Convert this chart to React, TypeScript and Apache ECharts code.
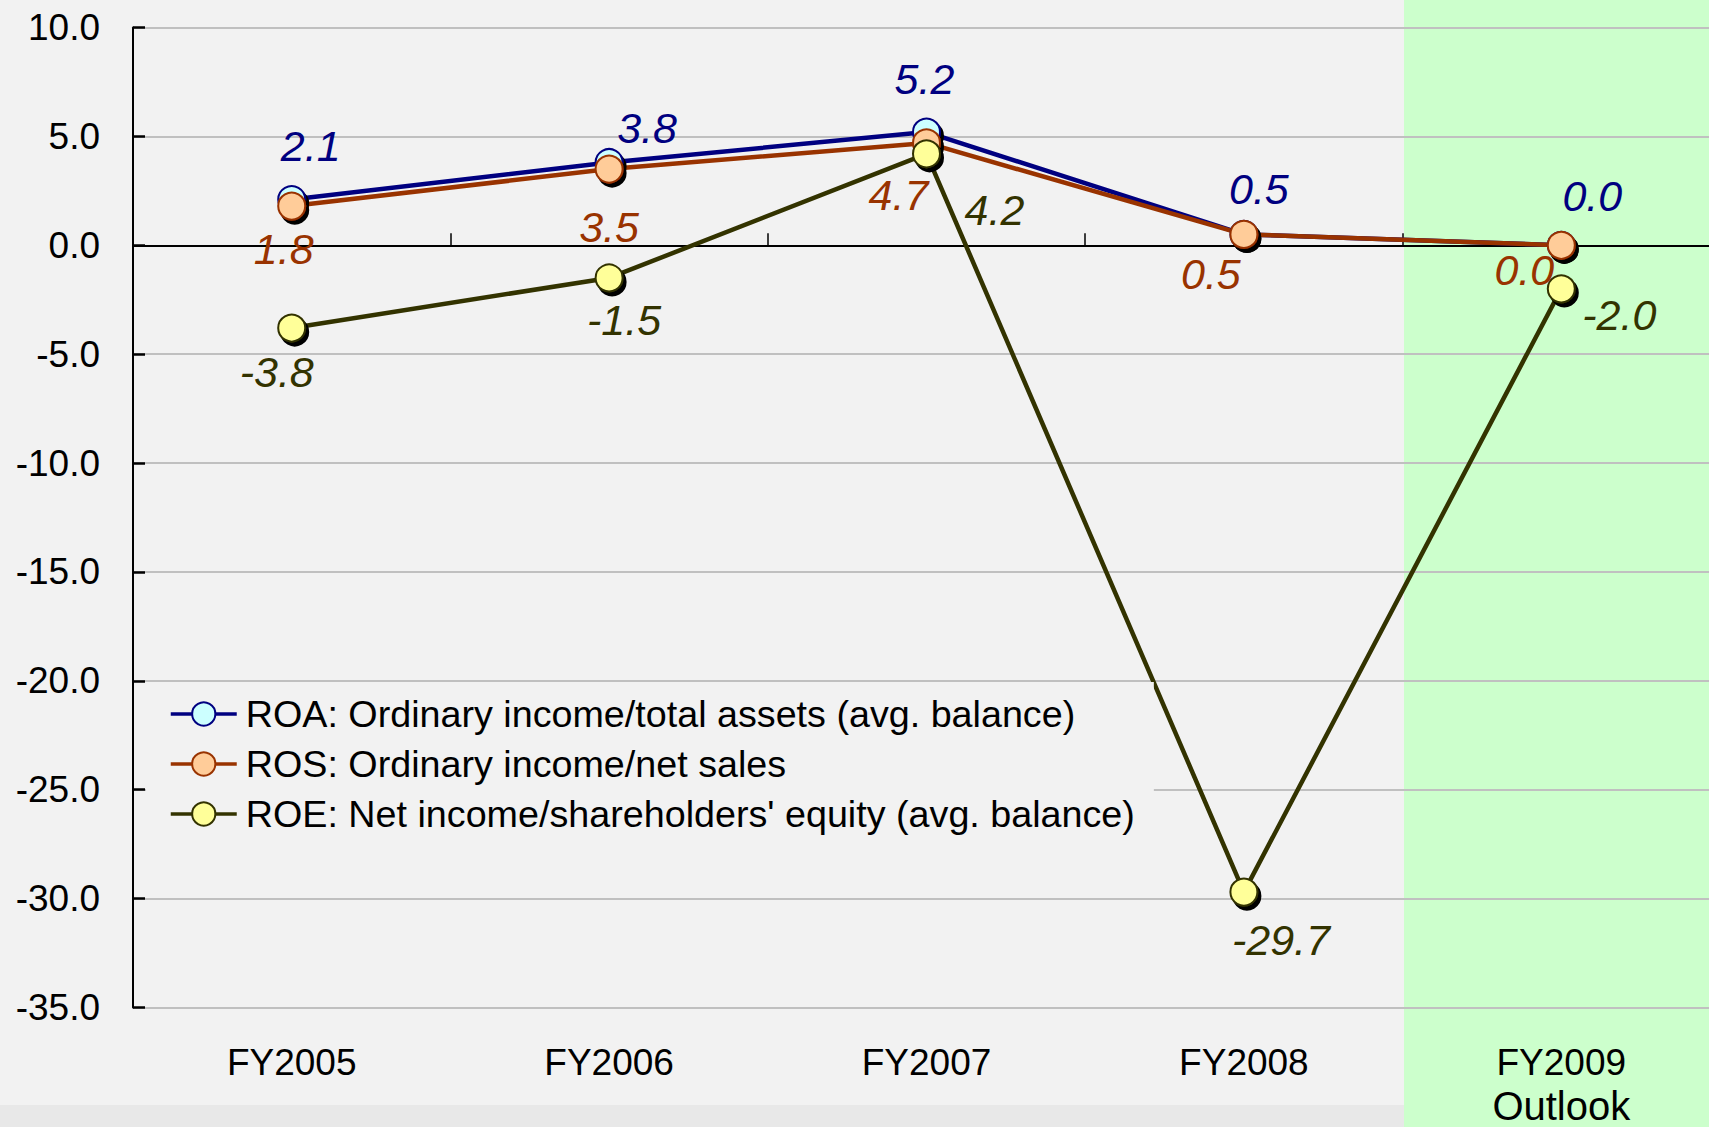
import React, { useEffect, useRef } from "react";
import * as echarts from "echarts";

const categories = ["FY2005", "FY2006", "FY2007", "FY2008", "FY2009"];
const roaValues = [2.1, 3.8, 5.2, 0.5, 0.0];
const rosValues = [1.8, 3.5, 4.7, 0.5, 0.0];
const roeValues = [-3.8, -1.5, 4.2, -29.7, -2.0];
const seriesNames = [
  "ROA: Ordinary income/total assets (avg. balance)",
  "ROS: Ordinary income/net sales",
  "ROE: Net income/shareholders' equity (avg. balance)",
];
const yMin = -35;
const yMax = 10;
const yStep = 5;

// label placement (style)
const roaLabelOffsets = [[19, -54], [38, -35], [-2, -53], [15, -45], [31, -49]];
const rosLabelOffsets = [[-8, 43], [0, 58], [-28, 52], [-33, 40], [-37, 25]];
const roeLabelOffsets = [[-15, 44], [15, 42], [68, 56], [37, 48], [58, 26]];

const FONT = "'Liberation Sans', Arial, sans-serif";

function makeSeries(
  name: string,
  values: number[],
  lineColor: string,
  fill: string,
  offsets: number[][]
) {
  return {
    name,
    type: "line",
    xAxisIndex: 0,
    data: values.map((v, i) => ({
      value: v,
      label: { offset: offsets[i] },
    })),
    symbol: "circle",
    symbolSize: 27,
    lineStyle: { color: lineColor, width: 4.5 },
    itemStyle: {
      color: fill,
      borderColor: lineColor,
      borderWidth: 2,
      shadowColor: "#000000",
      shadowBlur: 0,
      shadowOffsetX: 3,
      shadowOffsetY: 4,
    },
    label: {
      show: true,
      position: "inside",
      formatter: (p: any) => Number(p.value).toFixed(1),
      color: lineColor,
      fontStyle: "italic",
      fontSize: 43,
      fontFamily: FONT,
    },
    emphasis: { disabled: true },
  };
}

export default function App() {
  const ref = useRef<HTMLDivElement>(null);
  useEffect(() => {
    if (!ref.current) return;
    const chart = echarts.init(ref.current, undefined, { renderer: "svg" });
    const W = 1709;
    const H = 1127;
    const greenX = 1404;
    chart.setOption({
      animation: false,
      backgroundColor: "transparent",
      textStyle: { fontFamily: FONT },
      graphic: [
        {
          type: "rect",
          z: -10,
          silent: true,
          shape: { x: greenX, y: 0, width: W - greenX, height: H },
          style: { fill: "#ccffcc" },
        },
        {
          type: "rect",
          z: -10,
          silent: true,
          shape: { x: 0, y: 1105, width: greenX, height: H - 1105 },
          style: { fill: "#e8e8e8" },
        },
      ],
      grid: {
        left: 133,
        top: 27.5,
        width: 1587,
        height: 980,
        containLabel: false,
        outerBoundsMode: "none",
      },
      legend: {
        orient: "vertical",
        left: 146,
        top: 682,
        padding: [12, 19, 12, 23],
        backgroundColor: "#f2f2f2",
        itemWidth: 66,
        itemHeight: 29,
        itemGap: 10,
        itemStyle: { shadowColor: "transparent", shadowOffsetX: 0, shadowOffsetY: 0 },
        lineStyle: { width: 3.5 },
        textStyle: {
          fontSize: 37.7,
          color: "#000000",
          fontFamily: FONT,
          lineHeight: 40,
          padding: [0, 0, 0, 4],
        },
        data: seriesNames,
        z: 5,
      },
      xAxis: [
        {
          type: "category",
          data: categories,
          position: "bottom",
          axisLine: { show: true, onZero: true, lineStyle: { color: "#000000", width: 2 } },
          axisTick: { show: true, inside: true, length: 12, lineStyle: { color: "#000000", width: 1.5 } },
          axisLabel: { show: false },
          splitLine: { show: false },
        },
        {
          type: "category",
          data: categories,
          position: "bottom",
          axisLine: { show: false, onZero: false },
          axisTick: { show: false },
          axisLabel: {
            show: true,
            interval: 0,
            margin: 31,
            fontSize: 37,
            lineHeight: 48,
            color: "#000000",
            fontFamily: FONT,
            formatter: (v: string) => (v === "FY2009" ? "FY2009\n{o|Outlook}" : v),
            rich: {
              o: { fontSize: 40, lineHeight: 38, color: "#000000", fontFamily: FONT },
            },
          },
          splitLine: { show: false },
        },
      ],
      yAxis: {
        type: "value",
        min: yMin,
        max: yMax,
        interval: yStep,
        axisLine: { show: true, onZero: false, lineStyle: { color: "#000000", width: 2 } },
        axisTick: { show: true, inside: true, length: 12, lineStyle: { color: "#000000", width: 2.5 } },
        axisLabel: {
          margin: 33,
          fontSize: 37,
          color: "#000000",
          fontFamily: FONT,
          formatter: (v: number) => v.toFixed(1),
        },
        splitLine: { show: true, lineStyle: { color: "#c0c0c0", width: 2 } },
      },
      series: [
        makeSeries(seriesNames[0], roaValues, "#000080", "#ccffff", roaLabelOffsets),
        makeSeries(seriesNames[1], rosValues, "#993300", "#ffcc99", rosLabelOffsets),
        makeSeries(seriesNames[2], roeValues, "#333300", "#ffff99", roeLabelOffsets),
      ],
    });
    return () => chart.dispose();
  }, []);
  return (
    <div
      ref={ref}
      style={{
        position: "fixed",
        left: 0,
        top: 0,
        width: 1709,
        height: 1127,
        background: "#f2f2f2",
      }}
    />
  );
}
